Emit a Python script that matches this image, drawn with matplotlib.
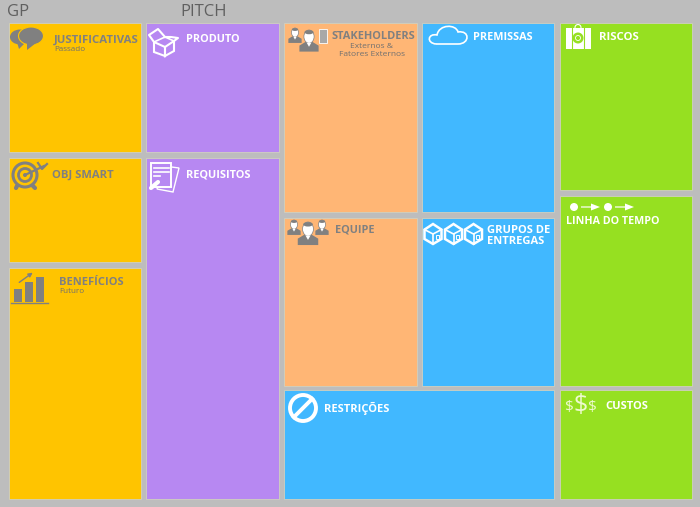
import matplotlib
matplotlib.use('Agg')
import matplotlib.pyplot as plt
from matplotlib.patches import Rectangle, Circle, Ellipse, Polygon, FancyArrow, PathPatch
from matplotlib.path import Path

plt.rcParams['font.family'] = ['Open Sans', 'DejaVu Sans']

bg = '#bdbdbd'
yellow = '#ffc400'
purple = '#b788f2'
orange = '#ffb675'
blue = '#41b8ff'
green = '#96e021'
grey = '#808080'
white = '#ffffff'

# blocks of the canvas
block_left = [8.5, 8.5, 8.5, 146, 146, 283.5, 283.5, 421.5, 421.5, 283.5, 559.5, 559.5, 559.5]
block_right = [141, 141, 141, 278.5, 278.5, 416.5, 416.5, 554, 554, 554, 692, 692, 692]
block_top = [22.5, 157.5, 267.5, 22.5, 157.5, 22.5, 218, 22.5, 218, 390, 22.5, 195.5, 390]
block_bottom = [151.5, 261.5, 499, 151.5, 499, 212, 385.5, 212, 385.5, 499, 190, 385.5, 499]
block_color = [yellow, yellow, yellow, purple, purple, orange, orange, blue, blue, blue, green, green, green]

# titles
titles = ['JUSTIFICATIVAS', 'OBJ SMART', 'BENEFÍCIOS', 'PRODUTO', 'REQUISITOS', 'STAKEHOLDERS', 'EQUIPE',
          'PREMISSAS', 'GRUPOS DE\nENTREGAS', 'RESTRIÇÕES', 'RISCOS', 'LINHA DO TEMPO', 'CUSTOS']
title_x = [54, 52, 59, 186, 186, 331, 335, 473, 487, 324, 599, 566, 605]
title_y = [40, 175, 282.5, 39.5, 175, 36.5, 230.5, 37, 236, 408, 37, 221.5, 406.5]
title_size = [8.2, 8.1, 8, 7.8, 7.9, 7.9, 7.8, 7.8, 8, 8, 8.2, 7.7, 8]
title_color = [grey, grey, grey, white, white, grey, grey, white, white, white, white, white, white]

sub_texts = ['Passado', 'Futuro', 'Externos &', 'Fatores Externos']
sub_x = [54, 59, 372, 372]
sub_y = [49.5, 291.5, 46, 54]
sub_size = [5.8, 5.8, 6, 6]
sub_ha = ['left', 'left', 'center', 'center']

dollar_x = [569.5, 581, 592.5]
dollar_y = [407, 406, 407]
dollar_size = [11, 18, 11]

fig = plt.figure(figsize=(7, 5.07), dpi=100, facecolor=bg)
ax = fig.add_axes([0, 0, 1, 1])
ax.set_xlim(0, 700)
ax.set_ylim(507, 0)
ax.axis('off')

for l, r, t, b, c in zip(block_left, block_right, block_top, block_bottom, block_color):
    ax.add_patch(Rectangle((l, t), r - l, b - t, fc=c, ec='#d0d0c0', lw=0.6))

for s, x, y, c, fs in zip(titles, title_x, title_y, title_color, title_size):
    ax.text(x, y, s, color=c, fontsize=fs, fontweight='bold', va='center', ha='left', linespacing=1.0)

for s, x, y, ha, fs in zip(sub_texts, sub_x, sub_y, sub_ha, sub_size):
    ax.text(x, y, s, color='#707070', fontsize=fs, va='center', ha=ha)

ax.text(7, 12, 'GP', color='#606060', fontsize=12, va='center')
ax.text(180, 12, 'PITCH', color='#606060', fontsize=12, va='center')


def person(cx, top, s, c=grey):
    # head with a light face, shoulders underneath
    ax.add_patch(Polygon([(cx - 8 * s, top + 18 * s), (cx - 8 * s, top + 13 * s), (cx - 3 * s, top + 10 * s),
                          (cx + 3 * s, top + 10 * s), (cx + 8 * s, top + 13 * s), (cx + 8 * s, top + 18 * s)],
                         fc=c, ec='none'))
    ax.add_patch(Ellipse((cx, top + 5.5 * s), 8.5 * s, 11 * s, fc=white, ec=c, lw=0.5))
    ax.add_patch(Ellipse((cx, top + 1.8 * s), 7.5 * s, 3.5 * s, fc=c, ec='none'))
    ax.add_patch(Polygon([(cx - 2 * s, top + 10.5 * s), (cx + 2 * s, top + 10.5 * s), (cx, top + 14 * s)],
                         fc=white, ec='none'))


def box3d(x, y, w, h):
    # white cube outline
    ax.add_patch(Polygon([(x, y + .28 * h), (x + .5 * w, y), (x + w, y + .28 * h), (x + w, y + .75 * h),
                          (x + .5 * w, y + h), (x, y + .75 * h)], fc='none', ec=white, lw=1.8))
    ax.plot([x, x + .5 * w, x + w], [y + .28 * h, y + .5 * h, y + .28 * h], color=white, lw=1.2)
    ax.plot([x + .5 * w, x + .5 * w], [y + .5 * h, y + h], color=white, lw=1.2)
    ax.add_patch(Rectangle((x + .66 * w, y + .55 * h), .18 * w, .2 * h, fc='none', ec=white, lw=0.7))


# speech bubbles
ax.add_patch(Ellipse((20, 37), 20, 15, fc=grey, ec='none'))
ax.add_patch(Polygon([(17, 42), (24, 44), (19, 49)], fc=grey, ec='none'))
ax.add_patch(Ellipse((31, 36), 25, 18, fc=grey, ec=yellow, lw=0.8))
ax.add_patch(Polygon([(27, 43), (36, 43), (27, 50)], fc=grey, ec='none'))

# open box, produto
ax.add_patch(Polygon([(154, 42), (165, 47), (165, 56), (154, 52)], fc='none', ec=white, lw=1.5))
ax.add_patch(Polygon([(165, 47), (174, 41), (174, 51), (165, 56)], fc='none', ec=white, lw=1.5))
ax.plot([154, 149, 158, 165], [42, 35, 29, 37], color=white, lw=1.5)
ax.plot([165, 171, 178, 174], [37, 37, 38, 41], color=white, lw=1.5)
ax.plot([154, 165, 174], [42, 37, 41], color=white, lw=1.2)

# target
ax.add_patch(Circle((25, 175), 12, fc='none', ec=grey, lw=2.2))
ax.add_patch(Circle((25, 175), 6.5, fc='none', ec=grey, lw=2))
ax.add_patch(Circle((25, 175), 2, fc=grey, ec='none'))
ax.plot([25, 44], [175, 166], color=grey, lw=1.6)
ax.plot([38, 42, 47], [163, 169, 164], color=grey, lw=1.6)
ax.plot([17, 16], [186, 188], color=grey, lw=3, solid_capstyle='round')
ax.plot([33, 35], [186, 188], color=grey, lw=3, solid_capstyle='round')

# documents
ax.add_patch(Polygon([(164, 166), (179, 168), (173, 192), (157, 189)], fc=purple, ec=white, lw=1))
ax.add_patch(Rectangle((151, 163), 20, 24, fc=purple, ec=white, lw=1.4))
for yy, x1 in zip([168, 172, 176], [169, 169, 160]):
    ax.plot([154, x1], [yy, yy], color=white, lw=1.2)
ax.plot([151, 158], [188, 182], color=white, lw=3, solid_capstyle='round')

# bar chart icon
for x, t in zip([14, 25, 36], [289, 282, 277]):
    ax.add_patch(Rectangle((x, t), 8, 302 - t, fc=grey, ec='none'))
ax.plot([11, 48], [302.5, 302.5], color=grey, lw=1)
ax.annotate('', xy=(35, 271), xytext=(17, 284), arrowprops=dict(arrowstyle='-|>', color=grey, lw=1, mutation_scale=6))

# stakeholders icons
person(295, 28, 0.83)
person(309, 30, 1.2)
ax.add_patch(Rectangle((318.5, 28.5), 8, 14, fc='#a8a8a8', ec=white, lw=0.6))

# equipe icons
person(294, 220, 0.83)
person(322, 220, 0.83)
person(308, 222, 1.28)

# cloud
cloud_verts = [(436, 44), (426, 43), (428, 33), (437, 35), (439, 24), (456, 24), (458, 32),
               (470, 30), (470, 44), (458, 44), (436, 44)]
cloud_codes = [Path.MOVETO, Path.CURVE4, Path.CURVE4, Path.CURVE4, Path.CURVE4, Path.CURVE4, Path.CURVE4,
               Path.CURVE4, Path.CURVE4, Path.CURVE4, Path.LINETO]
ax.add_patch(PathPatch(Path(cloud_verts, cloud_codes), fc='none', ec=white, lw=1.2))

# boxes, grupos de entregas
for x in [424.5, 445, 465]:
    box3d(x, 224, 17, 20)

# risk bag
ax.add_patch(Rectangle((566, 28), 25, 21, fc=white, ec='none'))
ax.add_patch(Circle((578, 27.5), 3, fc='none', ec=white, lw=0.8))
for x in [572, 584]:
    ax.plot([x, x], [28, 49], color=green, lw=0.8)
ax.add_patch(Circle((578, 38), 5.5, fc=green, ec='none'))
ax.add_patch(Circle((578, 38), 2.5, fc='none', ec=white, lw=0.6))

# timeline
for x in [574, 608]:
    ax.add_patch(Circle((x, 207), 4, fc=white, ec='none'))
for x in [581, 615]:
    ax.add_patch(FancyArrow(x, 207, 19, 0, width=1.2, head_width=7, head_length=9,
                            length_includes_head=True, fc=white, ec='none'))

# no sign
ax.add_patch(Circle((303, 408), 13, fc='none', ec=white, lw=2.8))
ax.plot([294, 312], [417, 399], color=white, lw=2.8)

# dollars
for x, y, fs in zip(dollar_x, dollar_y, dollar_size):
    ax.text(x, y, '$', color='#eefad0', fontsize=fs, ha='center', va='center')

fig.savefig('out.png', dpi=100, facecolor=bg)
